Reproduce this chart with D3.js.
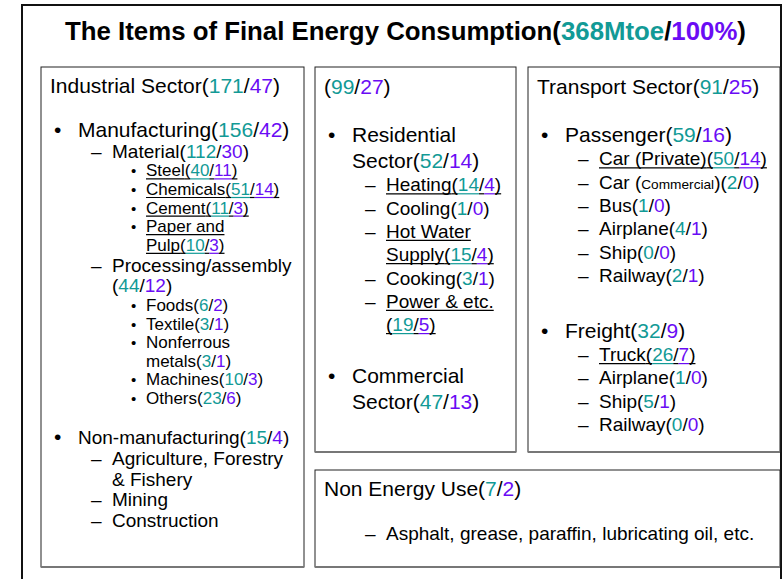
<!DOCTYPE html>
<html>
<head>
<meta charset="utf-8">
<script src="https://cdn.jsdelivr.net/npm/d3@7"></script>
<style>
  body { margin: 0; background: #fff; }
</style>
</head>
<body>
<div id="chart"></div>
<script>
// values: Mtoe / share (%)
const title = {label: "The Items of Final Energy Consumption", mtoe: "368Mtoe", pct: "100%"};

const industrialHead = {label: "Industrial Sector", mtoe: 171, pct: 47};
const industrialItems = [
  {lv: 0, label: "Manufacturing", mtoe: 156, pct: 42},
  {lv: 1, label: "Material", mtoe: 112, pct: 30},
  {lv: 2, label: "Steel", mtoe: 40, pct: 11},
  {lv: 2, label: "Chemicals", mtoe: 51, pct: 14},
  {lv: 2, label: "Cement", mtoe: 11, pct: 3},
  {lv: 2, label: "Paper and\nPulp", mtoe: 10, pct: 3},
  {lv: 1, label: "Processing/assembly\n", mtoe: 44, pct: 12},
  {lv: 2, label: "Foods", mtoe: 6, pct: 2},
  {lv: 2, label: "Textile", mtoe: 3, pct: 1},
  {lv: 2, label: "Nonferrous\nmetals", mtoe: 3, pct: 1},
  {lv: 2, label: "Machines", mtoe: 10, pct: 3},
  {lv: 2, label: "Others", mtoe: 23, pct: 6},
  {lv: 0, label: "Non-manufacturing", mtoe: 15, pct: 4},
  {lv: 1, label: "Agriculture, Forestry\n& Fishery"},
  {lv: 1, label: "Mining"},
  {lv: 1, label: "Construction"}
];

const buildingHead = {label: "", mtoe: 99, pct: 27};
const buildingItems = [
  {lv: 0, label: "Residential\nSector", mtoe: 52, pct: 14},
  {lv: 1, label: "Heating", mtoe: 14, pct: 4},
  {lv: 1, label: "Cooling", mtoe: 1, pct: 0},
  {lv: 1, label: "Hot Water\nSupply", mtoe: 15, pct: 4},
  {lv: 1, label: "Cooking", mtoe: 3, pct: 1},
  {lv: 1, label: "Power & etc.\n", mtoe: 19, pct: 5},
  {lv: 0, label: "Commercial\nSector", mtoe: 47, pct: 13}
];

const transportHead = {label: "Transport Sector", mtoe: 91, pct: 25};
const transportItems = [
  {lv: 0, label: "Passenger", mtoe: 59, pct: 16},
  {lv: 1, label: "Car (Private)", mtoe: 50, pct: 14},
  {lv: 1, label: "Car ({Commercial})", mtoe: 2, pct: 0},
  {lv: 1, label: "Bus", mtoe: 1, pct: 0},
  {lv: 1, label: "Airplane", mtoe: 4, pct: 1},
  {lv: 1, label: "Ship", mtoe: 0, pct: 0},
  {lv: 1, label: "Railway", mtoe: 2, pct: 1},
  {lv: 0, label: "Freight", mtoe: 32, pct: 9},
  {lv: 1, label: "Truck", mtoe: 26, pct: 7},
  {lv: 1, label: "Airplane", mtoe: 1, pct: 0},
  {lv: 1, label: "Ship", mtoe: 5, pct: 1},
  {lv: 1, label: "Railway", mtoe: 0, pct: 0}
];

const nonEnergyHead = {label: "Non Energy Use", mtoe: 7, pct: 2};
const nonEnergyItems = [
  {lv: 1, label: "Asphalt, grease, paraffin, lubricating oil, etc."}
];

const underlined = ["Steel", "Chemicals", "Cement", "Paper and\nPulp", "Heating",
  "Hot Water\nSupply", "Power & etc.\n", "Car (Private)", "Truck"];

const teal = "#129a96", purple = "#6a0cf4", ink = "#000";
const font = "'Liberation Sans', Arial, Helvetica, sans-serif";

const width = 783, height = 579;
const svg = d3.select("#chart").append("svg")
  .attr("width", width)
  .attr("height", height);

svg.append("rect").attr("width", width).attr("height", height).attr("fill", "#fff");

// outer frame
svg.append("rect")
  .attr("x", 22).attr("y", 5)
  .attr("width", 759).attr("height", 620)
  .attr("fill", "none").attr("stroke", "#111").attr("stroke-width", 2);

function valueSegs(d) {
  if (d.mtoe === undefined) return [];
  return [
    {text: "(", color: ink},
    {text: String(d.mtoe), color: teal},
    {text: "/", color: ink},
    {text: String(d.pct), color: purple},
    {text: ")", color: ink}
  ];
}

// split "{small}" parts out of a label line
function labelSegs(str, size) {
  let out = [];
  str.split(/(\{[^}]*\})/).forEach(p => {
    if (!p) return;
    if (p[0] === "{") out.push({text: p.slice(1, -1), color: ink, size: size * 0.72});
    else out.push({text: p, color: ink});
  });
  return out;
}

function drawSegs(g, x, y, segs, size, weight, underline) {
  let cx = x;
  segs.forEach(s => {
    let t = g.append("text")
      .attr("x", cx).attr("y", y)
      .attr("font-family", font)
      .attr("font-size", s.size || size)
      .attr("font-weight", weight || "normal")
      .attr("fill", s.color)
      .style("white-space", "pre")
      .text(s.text);
    let w = t.node().getComputedTextLength();
    if (underline && s.text.trim() !== "") {
      g.append("line")
        .attr("x1", cx).attr("x2", cx + w)
        .attr("y1", y + 2.5).attr("y2", y + 2.5)
        .attr("stroke", s.color).attr("stroke-width", 1.2);
    }
    cx += w;
  });
  return cx - x;
}

// title, centred
const titleG = svg.append("g");
const titleW = drawSegs(titleG, 0, 40, [
  {text: title.label + "(", color: ink},
  {text: title.mtoe, color: teal},
  {text: "/", color: ink},
  {text: title.pct, color: purple},
  {text: ")", color: ink}
], 25.8, "bold");
titleG.attr("transform", `translate(${405.5 - titleW / 2},0)`);

const sizes = [21, 19, 17];
const sizeOverride = {"Non-manufacturing": 19};
const bulletGlyph = ["\u2022", "\u2013", "\u2022"];
const bulletSize = [21, 19, 15];
const bulletX = [13, 50, 90];
const textX = [37, 71, 105];

const boxes = [
  {x: 41, y: 67, w: 263, h: 500, head: industrialHead, items: industrialItems,
   headY: 93, firstY: 137, lh: [26, 20.8, 18.6], sectionGap: 14},
  {x: 315, y: 67, w: 201, h: 385, head: buildingHead, items: buildingItems,
   headY: 94, firstY: 142, lh: [26, 23.3, 18.6], sectionGap: 26},
  {x: 528, y: 67, w: 252, h: 385, head: transportHead, items: transportItems,
   headY: 94, firstY: 142, lh: [26, 23.3, 18.6], sectionGap: 30},
  {x: 315, y: 470, w: 465, h: 97, head: nonEnergyHead, items: nonEnergyItems,
   headY: 496, firstY: 540, lh: [26, 23.3, 18.6], sectionGap: 0}
];

boxes.forEach(b => {
  const g = svg.append("g");
  g.append("rect")
    .attr("x", b.x).attr("y", b.y)
    .attr("width", b.w).attr("height", b.h)
    .attr("fill", "#fff").attr("stroke", "#222").attr("stroke-width", 1);
  g.append("line")
    .attr("x1", b.x).attr("x2", b.x + b.w)
    .attr("y1", b.y + b.h).attr("y2", b.y + b.h)
    .attr("stroke", "#777").attr("stroke-width", 2);

  drawSegs(g, b.x + 9, b.headY, labelSegs(b.head.label, 21).concat(valueSegs(b.head)), 21);

  let y = null;
  b.items.forEach((d, i) => {
    const lines = d.label.split("\n");
    const size = sizeOverride[d.label] || sizes[d.lv];
    const ul = underlined.includes(d.label);
    lines.forEach((ln, j) => {
      if (y === null) y = b.firstY;
      else if (j === 0 && d.lv === 0) y += b.sectionGap + b.lh[0];
      else y += b.lh[d.lv];

      if (j === 0) {
        g.append("text")
          .attr("x", b.x + bulletX[d.lv]).attr("y", y)
          .attr("font-family", font)
          .attr("font-size", bulletSize[d.lv])
          .attr("fill", ink)
          .text(bulletGlyph[d.lv]);
      }
      let segs = labelSegs(ln, size);
      if (j === lines.length - 1) segs = segs.concat(valueSegs(d));
      drawSegs(g, b.x + textX[d.lv], y, segs, size, "normal", ul);
    });
  });
});
</script>
</body>
</html>
